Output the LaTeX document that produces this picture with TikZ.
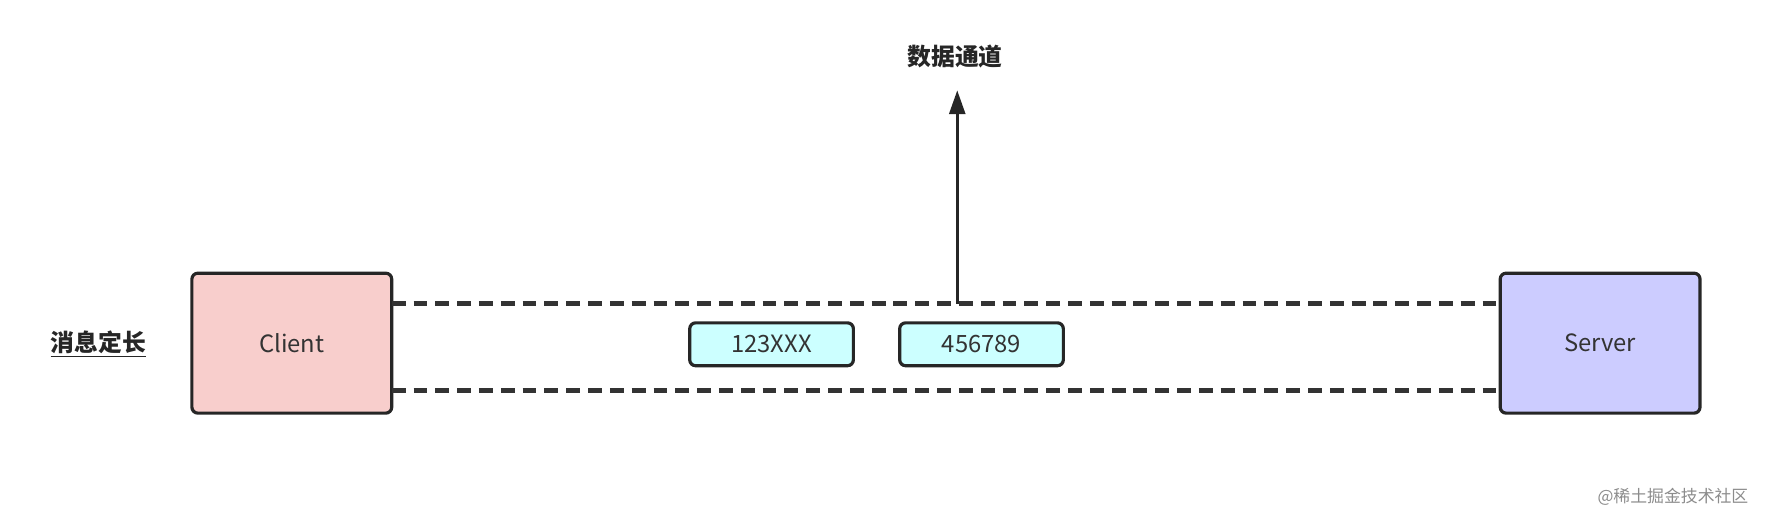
\documentclass[tikz,border=0pt]{standalone}
\usepackage{fontspec}
\setmainfont{Noto Sans CJK SC}
\usetikzlibrary{arrows.meta}
\definecolor{cfill}{HTML}{F8CECC}
\definecolor{sfill}{HTML}{CCCCFF}
\definecolor{pfill}{HTML}{CCFFFF}
\begin{document}
\begin{tikzpicture}[x=0.02cm,y=-0.02cm,
  box/.style={draw=black!85,line width=1.6pt,rounded corners=3pt,inner sep=0,font=\fontsize{12}{14}\selectfont,text=black!80},
  dashline/.style={draw=black!80,line width=2.2pt,dash pattern=on 7pt off 4pt},
  lbl/.style={font=\bfseries\fontsize{12}{14}\selectfont,text=black!85}]
\useasboundingbox (0,0) rectangle (1568,462);
\node[box,fill=cfill,minimum width=177*0.02cm,minimum height=124*0.02cm] (client) at (258.5,304) {Client};
\node[box,fill=sfill,minimum width=177*0.02cm,minimum height=124*0.02cm] (server) at (1417.5,304) {Server};
\node[box,fill=pfill,minimum width=145*0.02cm,minimum height=38*0.02cm] (a) at (683.5,305) {123XXX};
\node[box,fill=pfill,minimum width=145*0.02cm,minimum height=38*0.02cm] (b) at (869.5,305) {456789};
\coordinate (t1) at (347,269); \coordinate (t2) at (1329,269);
\coordinate (b1) at (347,346); \coordinate (b2) at (1329,346);
\draw[dashline] (t1) -- (t2);
\draw[dashline] (b1) -- (b2);
\coordinate (up) at (848,269);
\coordinate (tip) at (848,80);
\node[lbl] (chan) at (846,50) {数据通道};
\draw[line width=1.5pt,black!85,-{Triangle[length=12pt,width=8pt]}] (up) -- (tip);
\node[lbl] (len) at (87,305) {\underline{消息定长}};
\node[font=\fontsize{8.5}{10}\selectfont,text=black!45] (wm) at (1482,440) {@稀土掘金技术社区};
\end{tikzpicture}
\end{document}
